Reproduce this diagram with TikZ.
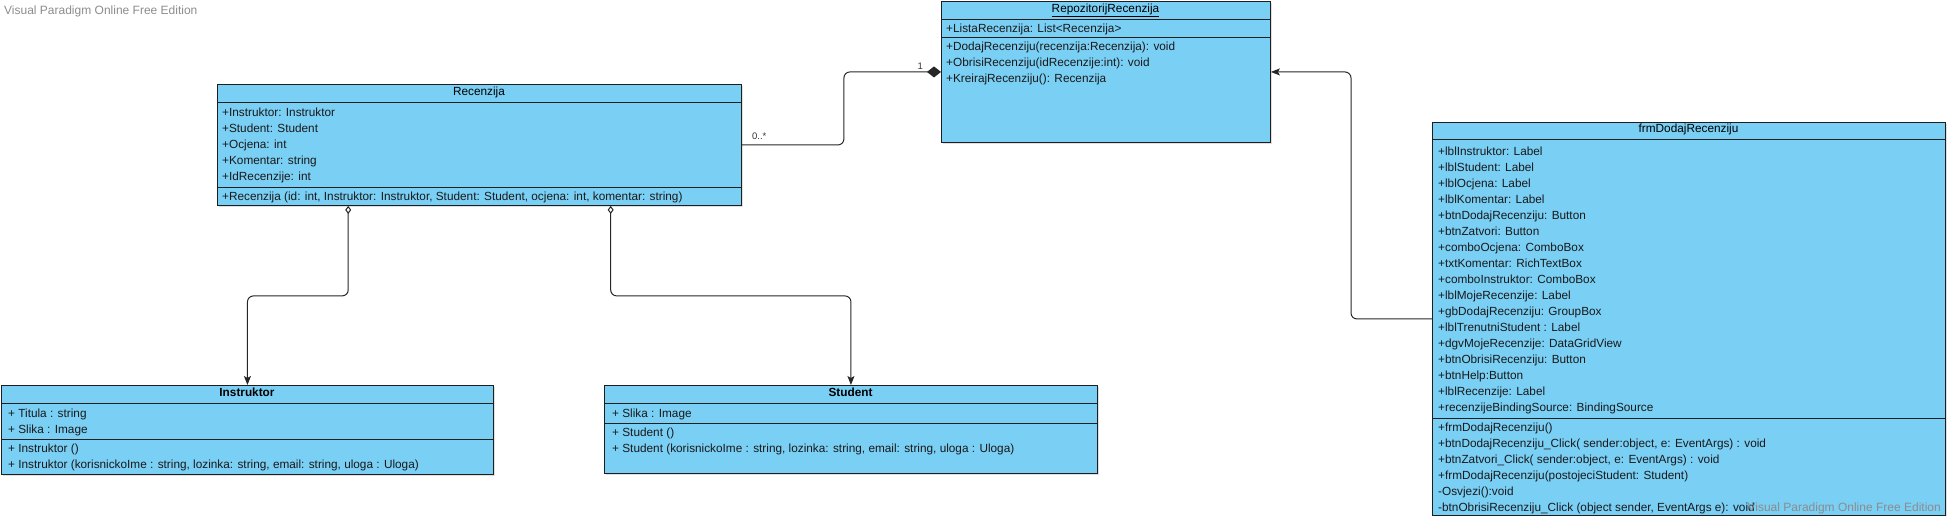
\documentclass[tikz,border=0pt]{standalone}
\usepackage{fontspec}
\setmainfont{Liberation Sans}
\usetikzlibrary{positioning,%
  calc,%
  arrows.meta,%
  shadows
}

\definecolor{clsfill}{RGB}{122,207,245}
\definecolor{clsline}{RGB}{30,30,30}
\definecolor{wmark}{RGB}{140,140,140}

\tikzset{
  cls/.style={draw=clsline, fill=clsfill, line width=0.9pt, anchor=north west, inner sep=0pt,
    drop shadow={shadow xshift=1.5pt, shadow yshift=-1.5pt, fill=black!25}},
  ttl/.style={font=\fontsize{11.8}{14}\selectfont, inner sep=0pt, text height=8pt, text depth=2.5pt},
  row/.style={anchor=west, font=\fontsize{11.8}{14}\selectfont, inner sep=0pt, text=black!90,
    text height=8pt, text depth=2.5pt, yshift=-1.5pt},
  sep/.style={draw=clsline, line width=0.9pt},
  link/.style={draw=black!85, line width=1pt, rounded corners=6pt},
  aggr/.style={link, {Diamond[open, fill=white, length=8pt, width=6pt]}-{Stealth[length=9pt, width=7pt, inset=2pt]}},
  comp/.style={link, -{Diamond[length=14pt, width=11pt]}},
  gen/.style={link, -{Stealth[length=9pt, width=7pt, inset=2pt]}},
  mult/.style={font=\fontsize{9.5}{11}\selectfont, inner sep=0pt, text=black!80},
  wm/.style={font=\fontsize{12}{14}\selectfont, text=wmark, inner sep=0pt}
}

\begin{document}
\begin{tikzpicture}[x=1pt,y=-1pt]
    \useasboundingbox (0,0) rectangle (1947,516);

    \node[wm, anchor=west] (wm-top) at (4,11) {Visual Paradigm Online Free Edition};

    % Recenzija
    \node[cls, minimum width=524pt, minimum height=121pt] (recenzija) at (217,84) {};
    \node[ttl] (recenzija-t) at (479,93) {Recenzija};
    \draw[sep] (217,102) -- (741,102);
    \draw[sep] (217,187) -- (741,187);
    \foreach \t [count=\i] in {+Instruktor: Instruktor, +Student: Student, +Ocjena: int,
        +Komentar: string, +IdRecenzije: int} {
        \node[row] (recenzija-a\i) at (222,{112+16*(\i-1)}) {\t};
    }
    \node[row] (recenzija-m1) at (222,196) {+Recenzija (id: int, Instruktor: Instruktor, Student: Student, ocjena: int, komentar: string)};

    % RepozitorijRecenzija
    \node[cls, minimum width=329pt, minimum height=141pt] (repozitorij) at (941,1) {};
    \node[ttl] (repozitorij-t) at (1105.5,10) {\underline{RepozitorijRecenzija}};
    \draw[sep] (941,19) -- (1270,19);
    \draw[sep] (941,37) -- (1270,37);
    \node[row] (repozitorij-a1) at (946,28) {+ListaRecenzija: List<Recenzija>};
    \foreach \t [count=\i] in {+DodajRecenziju(recenzija:Recenzija): void,
        +ObrisiRecenziju(idRecenzije:int): void, +KreirajRecenziju(): Recenzija} {
        \node[row] (repozitorij-m\i) at (946,{46+16*(\i-1)}) {\t};
    }

    % frmDodajRecenziju
    \node[cls, minimum width=513pt, minimum height=393pt] (frm) at (1432,122) {};
    \node[ttl] (frm-t) at (1688.5,130) {frmDodajRecenziju};
    \draw[sep] (1432,139) -- (1945,139);
    \draw[sep] (1432,418) -- (1945,418);
    \foreach \t [count=\i] in {+lblInstruktor: Label, +lblStudent: Label, +lblOcjena: Label,
        +lblKomentar: Label, +btnDodajRecenziju: Button, +btnZatvori: Button,
        +comboOcjena: ComboBox, +txtKomentar: RichTextBox, +comboInstruktor: ComboBox,
        +lblMojeRecenzije: Label, +gbDodajRecenziju: GroupBox, +lblTrenutniStudent : Label,
        +dgvMojeRecenzije: DataGridView, +btnObrisiRecenziju: Button, +btnHelp:Button,
        +lblRecenzije: Label, +recenzijeBindingSource: BindingSource} {
        \node[row] (frm-a\i) at (1438,{151+16*(\i-1)}) {\t};
    }
    \foreach \t [count=\i] in {+frmDodajRecenziju(),
        {+btnDodajRecenziju\_Click( sender:object, e: EventArgs) : void},
        {+btnZatvori\_Click( sender:object, e: EventArgs) : void},
        +frmDodajRecenziju(postojeciStudent: Student), -Osvjezi():void,
        {-btnObrisiRecenziju\_Click (object sender, EventArgs e): void}} {
        \node[row] (frm-m\i) at (1438,{427+16*(\i-1)}) {\t};
    }

    % Instruktor
    \node[cls, minimum width=492pt, minimum height=89pt] (instruktor) at (1,385) {};
    \node[ttl, font=\fontsize{11.8}{14}\selectfont\bfseries] (instruktor-t) at (247,394) {Instruktor};
    \draw[sep] (1,403) -- (493,403);
    \draw[sep] (1,439) -- (493,439);
    \node[row] (instruktor-a1) at (8,413) {+ Titula : string};
    \node[row] (instruktor-a2) at (8,429) {+ Slika : Image};
    \node[row] (instruktor-m1) at (8,448) {+ Instruktor ()};
    \node[row] (instruktor-m2) at (8,464) {+ Instruktor (korisnickoIme : string, lozinka: string, email: string, uloga : Uloga)};

    % Student
    \node[cls, minimum width=493pt, minimum height=88pt] (student) at (604,385) {};
    \node[ttl, font=\fontsize{11.8}{14}\selectfont\bfseries] (student-t) at (850.5,394) {Student};
    \draw[sep] (604,403) -- (1097,403);
    \draw[sep] (604,423) -- (1097,423);
    \node[row] (student-a1) at (612,413) {+ Slika : Image};
    \node[row] (student-m1) at (612,432) {+ Student ()};
    \node[row] (student-m2) at (612,448) {+ Student (korisnickoIme : string, lozinka: string, email: string, uloga : Uloga)};

    % veze
    \draw[comp] (recenzija.east) -- ++(102,0) |- (repozitorij.west);
    \node[mult, anchor=south west] (mult-many) at ([xshift=10pt,yshift=5pt]recenzija.east) {0..*};
    \node[mult, anchor=south east] (mult-one) at ([xshift=-18pt,yshift=2.5pt]repozitorij.west) {1};
    \draw[aggr] ($(recenzija.south west)!.25!(recenzija.south east)$) -- ++(0,90) -| (instruktor.north);
    \draw[aggr] ($(recenzija.south west)!.75!(recenzija.south east)$) -- ++(0,90) -| (student.north);
    \draw[gen] (frm.west) -- ++(-81,0) |- (repozitorij.east);

    \node[wm, anchor=east] (wm-bottom) at (1941,508) {Visual Paradigm Online Free Edition};
\end{tikzpicture}
\end{document}
